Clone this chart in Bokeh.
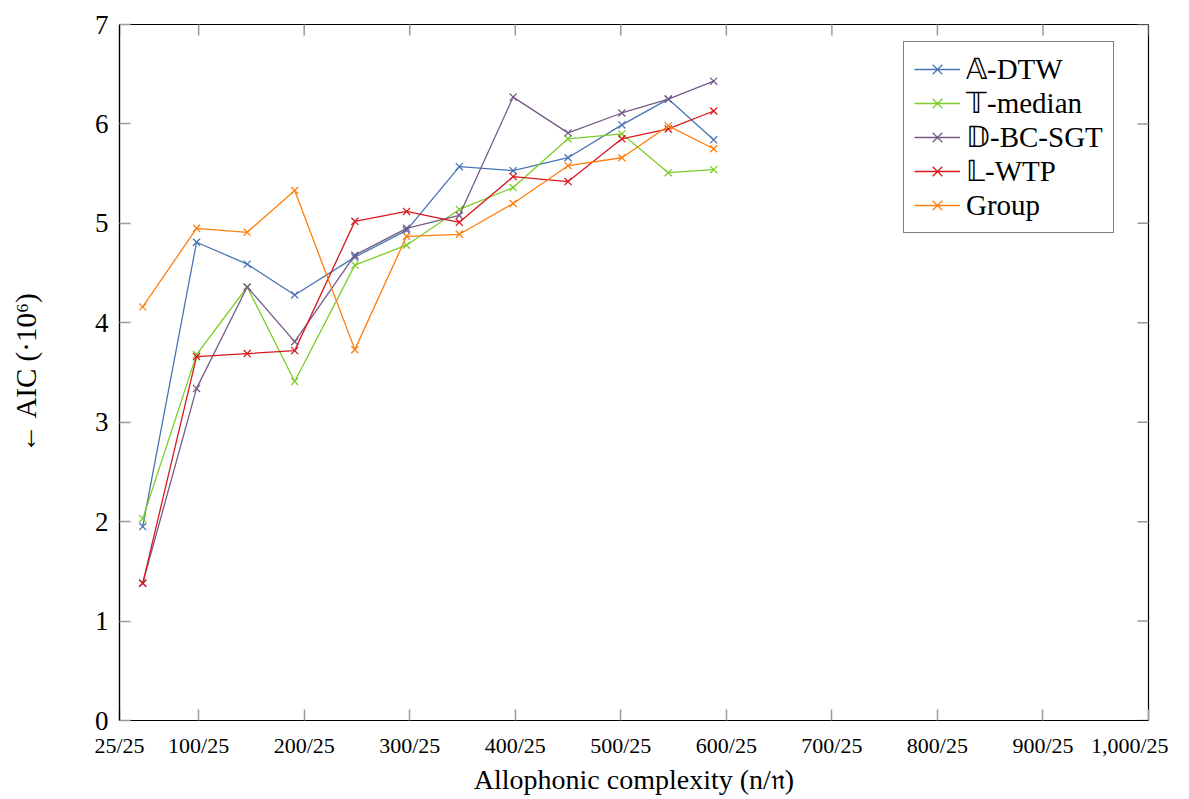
import math
from bokeh.plotting import figure
from bokeh.models import Range1d, FixedTicker, Legend, LegendItem
from bokeh.embed import file_html
from bokeh.resources import INLINE

# ---- data ----
n_values = [47, 98, 146, 191, 248, 297, 347, 398, 450, 501, 545, 588]
a_dtw = [1.95, 4.81, 4.59, 4.28, 4.66, 4.93, 5.57, 5.53, 5.66, 5.99, 6.25, 5.84]
t_median = [2.03, 3.68, 4.36, 3.41, 4.58, 4.78, 5.14, 5.36, 5.85, 5.90, 5.51, 5.54]
d_bc_sgt = [1.38, 3.34, 4.36, 3.81, 4.68, 4.95, 5.08, 6.27, 5.91, 6.11, 6.25, 6.43]
l_wtp = [1.38, 3.66, 3.69, 3.72, 5.02, 5.12, 5.01, 5.47, 5.42, 5.85, 5.95, 6.13]
group = [4.16, 4.95, 4.91, 5.33, 3.73, 4.87, 4.89, 5.20, 5.58, 5.66, 5.98, 5.75]

series_names = ["𝔸-DTW", "𝕋-median", "𝔻-BC-SGT", "𝕃-WTP", "Group"]
series_values = [a_dtw, t_median, d_bc_sgt, l_wtp, group]
series_colors = ["#4a74b4", "#7dcd28", "#785a87", "#d7191e", "#ff7f0e"]

x_ticks = [25, 100, 200, 300, 400, 500, 600, 700, 800, 900, 1000]
x_tick_labels = ["25/25", "100/25", "200/25", "300/25", "400/25", "500/25",
                 "600/25", "700/25", "800/25", "900/25", "1,000/25"]
y_ticks = [0, 1, 2, 3, 4, 5, 6, 7]

FONT = "Liberation Serif"
TICK_COLOR = "#9a9a9a"

p = figure(frame_width=1029, frame_height=696,
           x_range=Range1d(x_ticks[0], x_ticks[-1]), y_range=Range1d(y_ticks[0], y_ticks[-1]),
           output_backend="svg", toolbar_location=None,
           min_border_left=119, min_border_right=20,
           min_border_top=24, min_border_bottom=70)

p.outline_line_color = "black"
p.outline_line_width = 1.2
p.xgrid.visible = False
p.ygrid.visible = False
p.background_fill_color = "white"

def style_axis(ax):
    ax.major_tick_in = 11
    ax.major_tick_out = 0
    ax.minor_tick_in = 0
    ax.minor_tick_out = 0
    ax.major_tick_line_color = TICK_COLOR
    ax.major_tick_line_width = 1.5
    ax.axis_line_color = "black"
    ax.axis_line_width = 1.2
    ax.major_label_text_font = FONT
    ax.major_label_text_color = "black"
    ax.axis_label_text_font = FONT
    ax.axis_label_text_font_style = "normal"
    ax.axis_label_text_color = "black"

# bottom axis
xa = p.xaxis[0]
xa.ticker = FixedTicker(ticks=x_ticks)
xa.major_label_overrides = {t: l for t, l in zip(x_ticks, x_tick_labels)}
style_axis(xa)
xa.major_label_text_font_size = "22px"
xa.major_label_standoff = 12
xa.axis_label = "Allophonic complexity (n/𝔫)"
xa.axis_label_text_font_size = "28px"
xa.axis_label_standoff = 3

# left axis
ya = p.yaxis[0]
ya.ticker = FixedTicker(ticks=y_ticks)
style_axis(ya)
ya.major_label_text_font_size = "27px"
ya.major_label_standoff = 11
ya.axis_label = "← AIC (·10⁶)"
ya.axis_label_text_font_size = "29px"
ya.axis_label_standoff = 50

# inward ticks on the top and right edges (half of each dash is clipped by the frame)
p.scatter(x_ticks, [y_ticks[-1]] * len(x_ticks), marker="dash", angle=math.pi / 2,
          size=22, line_color=TICK_COLOR, line_width=1.5)
p.scatter([x_ticks[-1]] * len(y_ticks), y_ticks, marker="dash",
          size=22, line_color=TICK_COLOR, line_width=1.5)

items = []
for name, vals, col in zip(series_names, series_values, series_colors):
    ln = p.line(n_values, vals, line_color=col, line_width=1.3)
    sc = p.scatter(n_values, vals, marker="x", size=10, line_color=col, line_width=1.3)
    items.append(LegendItem(label=name, renderers=[ln, sc]))

legend = Legend(items=items, location=(784, 487))
legend.margin = 0
legend.padding = 10
legend.spacing = 0
legend.glyph_width = 46
legend.glyph_height = 34
legend.label_height = 34
legend.label_standoff = 6
legend.label_text_font = FONT
legend.label_text_font_size = "29px"
legend.label_text_color = "black"
legend.border_line_color = "black"
legend.border_line_width = 1.2
legend.background_fill_color = "white"
legend.background_fill_alpha = 1.0
p.add_layout(legend, "center")

open("out.html", "w").write(file_html(p, INLINE))
